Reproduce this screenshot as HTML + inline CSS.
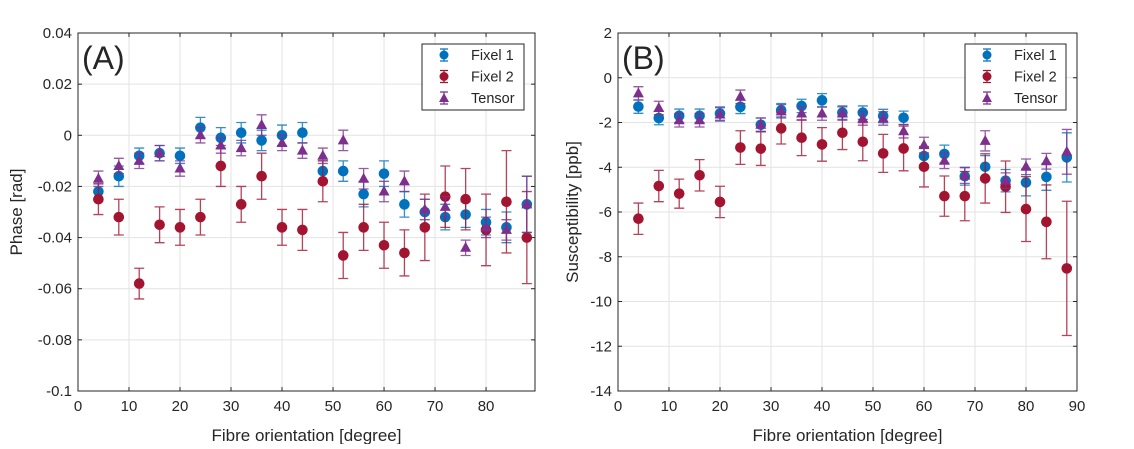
<!DOCTYPE html>
<html><head><meta charset="utf-8"><style>
body{margin:0;background:#fff;width:1134px;height:444px;overflow:hidden}
svg text{font-family:"Liberation Sans",Arial,sans-serif;fill:#262626}
</style></head><body>
<svg id="fig" width="1134" height="444" viewBox="0 0 1134 444" xmlns="http://www.w3.org/2000/svg"></svg>
<script>
const xDeg=[4,8,12,16,20,24,28,32,36,40,44,48,52,56,60,64,68,72,76,80,84,88];
const aFixel1=[-0.022,-0.016,-0.008,-0.007,-0.008,0.003,-0.001,0.001,-0.002,0.000,0.001,-0.014,-0.014,-0.023,-0.015,-0.027,-0.030,-0.032,-0.031,-0.034,-0.036,-0.027];
const aFixel1Err=[0.003,0.004,0.003,0.003,0.003,0.004,0.004,0.004,0.004,0.004,0.004,0.004,0.004,0.005,0.005,0.005,0.005,0.005,0.005,0.005,0.006,0.011];
const aFixel2=[-0.025,-0.032,-0.058,-0.035,-0.036,-0.032,-0.012,-0.027,-0.016,-0.036,-0.037,-0.018,-0.047,-0.036,-0.043,-0.046,-0.036,-0.024,-0.025,-0.037,-0.026,-0.040];
const aFixel2Err=[0.006,0.007,0.006,0.007,0.007,0.007,0.008,0.007,0.009,0.007,0.008,0.008,0.009,0.009,0.009,0.009,0.013,0.012,0.012,0.014,0.020,0.018];
const aTensor=[-0.017,-0.012,-0.010,-0.007,-0.013,0.000,-0.004,-0.005,0.004,-0.003,-0.006,-0.008,-0.002,-0.017,-0.022,-0.018,-0.029,-0.028,-0.044,-0.036,-0.037,-0.027];
const aTensorErr=[0.003,0.003,0.003,0.003,0.003,0.003,0.003,0.003,0.004,0.003,0.003,0.003,0.004,0.004,0.004,0.004,0.004,0.004,0.003,0.004,0.004,0.011];
const bFixel1=[-1.29,-1.8,-1.7,-1.7,-1.6,-1.3,-2.1,-1.45,-1.26,-1.01,-1.56,-1.56,-1.71,-1.79,-3.5,-3.41,-4.4,-3.98,-4.6,-4.68,-4.43,-3.56];
const bFixel1Err=[0.3,0.3,0.3,0.3,0.3,0.3,0.3,0.3,0.3,0.3,0.3,0.3,0.3,0.3,0.4,0.4,0.4,0.5,0.5,0.6,0.6,1.1];
const bFixel2=[-6.3,-4.84,-5.18,-4.36,-5.55,-3.12,-3.17,-2.26,-2.68,-2.98,-2.46,-2.86,-3.38,-3.16,-3.98,-5.29,-5.29,-4.5,-4.87,-5.87,-6.44,-8.52];
const bFixel2Err=[0.7,0.7,0.65,0.7,0.7,0.75,0.75,0.7,0.8,0.75,0.75,0.85,0.85,1.0,0.9,0.9,1.1,1.1,1.15,1.45,1.65,3.0];
const bTensor=[-0.7,-1.35,-1.9,-1.9,-1.64,-0.85,-2.1,-1.5,-1.6,-1.6,-1.6,-1.82,-1.82,-2.39,-3.01,-3.71,-4.37,-2.82,-4.6,-3.98,-3.73,-3.31];
const bTensorErr=[0.3,0.3,0.3,0.3,0.3,0.3,0.3,0.3,0.3,0.3,0.3,0.3,0.3,0.3,0.35,0.35,0.35,0.45,0.35,0.35,0.35,1.0];
const aYTicks=[0.04,0.02,0,-0.02,-0.04,-0.06,-0.08,-0.1];
const aYLabels=["0.04","0.02","0","-0.02","-0.04","-0.06","-0.08","-0.1"];
const aXTicks=[0,10,20,30,40,50,60,70,80];
const bYTicks=[2,0,-2,-4,-6,-8,-10,-12,-14];
const bXTicks=[0,10,20,30,40,50,60,70,80,90];
const seriesNames=["Fixel 1","Fixel 2","Tensor"];

const NS="http://www.w3.org/2000/svg";
const svg=document.getElementById('fig');
function el(tag,attrs,parent,txt){const e=document.createElementNS(NS,tag);for(const k in attrs)e.setAttribute(k,attrs[k]);if(txt!==undefined)e.textContent=txt;(parent||svg).appendChild(e);return e;}
const COLORS=["#0072BD","#A2142F","#7E2F8E"];

function panel(cfg){
  const g=el('g',{});
  
  
  const X=v=>cfg.x0+(v-cfg.xmin)/(cfg.xmax-cfg.xmin)*(cfg.x1-cfg.x0);
  const Y=v=>cfg.y0+(cfg.ymax-v)/(cfg.ymax-cfg.ymin)*(cfg.y1-cfg.y0);
  cfg.xticks.forEach(t=>{const l=el('line',{x1:X(t),x2:X(t),y1:cfg.y0,y2:cfg.y1,stroke:'#e3e3e3','stroke-width':1},g);
    });
  cfg.yticks.forEach(t=>{const l=el('line',{x1:cfg.x0,x2:cfg.x1,y1:Y(t),y2:Y(t),stroke:'#e3e3e3','stroke-width':1},g);
    });
  const box=el('rect',{x:cfg.x0,y:cfg.y0,width:cfg.x1-cfg.x0,height:cfg.y1-cfg.y0,fill:'none',stroke:'#262626','stroke-width':1},g);
  
  cfg.xticks.forEach(t=>{el('line',{x1:X(t),x2:X(t),y1:cfg.y1,y2:cfg.y1-4,stroke:'#262626'},g);el('line',{x1:X(t),x2:X(t),y1:cfg.y0,y2:cfg.y0+4,stroke:'#262626'},g);
    const tx=el('text',{x:X(t),y:cfg.y1+20,'font-size':15,'text-anchor':'middle'},g,String(t));
    });
  cfg.yticks.forEach((t,i)=>{el('line',{x1:cfg.x0,x2:cfg.x0+4,y1:Y(t),y2:Y(t),stroke:'#262626'},g);el('line',{x1:cfg.x1,x2:cfg.x1-4,y1:Y(t),y2:Y(t),stroke:'#262626'},g);
    const tx=el('text',{x:cfg.x0-6,y:Y(t)+5,'font-size':15,'text-anchor':'end'},g,cfg.ylabels[i]);
    });
  const xl=el('text',{x:(cfg.x0+cfg.x1)/2,y:441,'font-size':17,'text-anchor':'middle'},g,'Fibre orientation [degree]');
  
  const yl=el('text',{x:cfg.ylx,y:(cfg.y0+cfg.y1)/2,'font-size':17,'text-anchor':'middle',transform:`rotate(-90 ${cfg.ylx} ${(cfg.y0+cfg.y1)/2})`},g,cfg.ytitle);
  
  const pl=el('text',{x:cfg.x0+4,y:cfg.y0+36,'font-size':32,fill:'#000'},g,cfg.label);
  
  cfg.series.forEach((s,si)=>{
    const sg=el('g',{},g);
    
    
    const c=COLORS[si];
    xDeg.forEach((xv,i)=>{
      const cx=X(xv),cy=Y(s.v[i]),top=Y(s.v[i]+s.e[i]),bot=Y(s.v[i]-s.e[i]);
      const eb=el('path',{d:`M${cx},${top}V${bot}M${cx-5},${top}H${cx+5}M${cx-5},${bot}H${cx+5}`,stroke:c,'stroke-width':1.3,fill:'none',opacity:0.8},sg);
      
      let m;
      if(si<2) m=el('circle',{cx:cx,cy:cy,r:5.3,fill:c},sg);
      else m=el('path',{d:`M${cx},${cy-6}L${cx+5.5},${cy+4}L${cx-5.5},${cy+4}Z`,fill:c},sg);
      
    });
  });
  const lg=el('g',{},g);
  
  el('rect',{x:cfg.lx,y:44,width:cfg.lw,height:66,fill:'#fff',stroke:'#262626','stroke-width':1},lg);
  seriesNames.forEach((n,si)=>{
    const yy=55+si*21.5,mx=cfg.lx+22,c=COLORS[si];
    const e=el('g',{},lg);
    
    el('path',{d:`M${mx},${yy-6}V${yy+6}M${mx-4},${yy-6}H${mx+4}M${mx-4},${yy+6}H${mx+4}`,stroke:c,'stroke-width':1.2},e);
    if(si<2) el('circle',{cx:mx,cy:yy,r:4.5,fill:c},e);
    else el('path',{d:`M${mx},${yy-5}L${mx+5},${yy+4}L${mx-5},${yy+4}Z`,fill:c},e);
    el('text',{x:cfg.lx+49,y:yy+5,'font-size':14.5},e,n);
  });
}
panel({name:'panel-a-phase',x0:78,x1:535,y0:33,y1:391,xmin:0,xmax:89.6,ymin:-0.1,ymax:0.04,
  xticks:aXTicks,yticks:aYTicks,ylabels:aYLabels,ytitle:'Phase [rad]',ylx:22,label:'(A)',lx:422,lw:102,
  series:[{v:aFixel1,e:aFixel1Err},{v:aFixel2,e:aFixel2Err},{v:aTensor,e:aTensorErr}]});
panel({name:'panel-b-susceptibility',x0:618,x1:1077,y0:33,y1:391,xmin:0,xmax:90,ymin:-14,ymax:2,
  xticks:bXTicks,yticks:bYTicks,ylabels:bYTicks.map(String),ytitle:'Susceptibility [ppb]',ylx:578,label:'(B)',lx:965,lw:101,
  series:[{v:bFixel1,e:bFixel1Err},{v:bFixel2,e:bFixel2Err},{v:bTensor,e:bTensorErr}]});
</script>
</body></html>
